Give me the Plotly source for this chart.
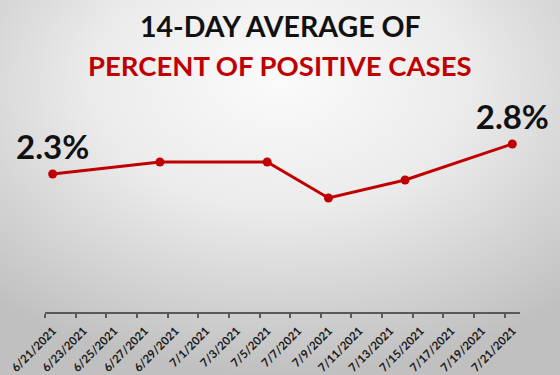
import base64
import plotly.graph_objects as go

# ---- data ----
dates = ["2021-06-21", "2021-06-28", "2021-07-05", "2021-07-09", "2021-07-14", "2021-07-21"]
pct_positive = [2.3, 2.5, 2.5, 1.9, 2.2, 2.8]
title_line1 = "14-DAY AVERAGE OF"
title_line2 = "PERCENT OF POSITIVE CASES"
x_start = "2021-06-21"
x_end = "2021-07-22"

RED = "#c00000"
FONT = "Lato, 'Open Sans', sans-serif"

labels = [f"{v}%" if i in (0, len(pct_positive) - 1) else "" for i, v in enumerate(pct_positive)]

W, H = 560, 375
ML, MR, MT, MB = 45, 40, 132, 63
PW, PH = W - ML - MR, H - MT - MB

svg = f"""<svg xmlns='http://www.w3.org/2000/svg' width='{W}' height='{H}' viewBox='0 0 {W} {H}' preserveAspectRatio='none'>
<defs><radialGradient id='g' cx='50%' cy='25%' r='75%' fx='50%' fy='20%'>
<stop offset='0%' stop-color='#fbfbfb'/><stop offset='45%' stop-color='#ebebeb'/><stop offset='100%' stop-color='#c0c0c0'/>
</radialGradient></defs><rect width='{W}' height='{H}' fill='url(#g)'/></svg>"""
bg_src = "data:image/svg+xml;base64," + base64.b64encode(svg.encode()).decode()

fig = go.Figure()
fig.add_trace(go.Scatter(
    x=dates, y=pct_positive,
    xperiod=86400000, xperiodalignment="middle",
    mode="lines+markers+text",
    line=dict(color=RED, width=3),
    marker=dict(color=RED, size=9),
    text=labels, textposition="top center",
    textfont=dict(family=FONT, size=33, color="#111111", weight="bold"),
    cliponaxis=False, hoverinfo="skip",
))

fig.update_layout(
    width=W, height=H,
    margin=dict(l=ML, r=MR, t=MT, b=MB, autoexpand=False),
    paper_bgcolor="#e2e2e2",
    plot_bgcolor="rgba(0,0,0,0)",
    showlegend=False,
    images=[dict(
        source=bg_src, xref="paper", yref="paper",
        x=-ML / PW, y=1 + MT / PH, sizex=W / PW, sizey=H / PH,
        xanchor="left", yanchor="top", sizing="stretch", layer="below",
    )],
    xaxis=dict(
        type="date", range=[x_start, x_end],
        tick0=x_start, dtick=2 * 86400000, tickformat="%-m/%-d/%Y",
        tickangle=-45, ticks="outside", ticklen=4, tickwidth=1.5,
        tickcolor="#595959", showline=True, linecolor="#595959", linewidth=1.5,
        showgrid=False, zeroline=False,
        ticklabelshift=8, ticklabelstandoff=2,
        tickfont=dict(family=FONT, size=11.5, color="#1a1a1a", weight="bold"),
        fixedrange=True,
    ),
    yaxis=dict(range=[0, 3], visible=False, fixedrange=True),
    annotations=[
        dict(text=title_line1, xref="paper", yref="paper", x=(W / 2 - ML) / PW,
             y=1 + (MT - 45) / PH, xanchor="center", yanchor="bottom", showarrow=False,
             font=dict(family=FONT, size=28.5, color="#111111", weight="bold")),
        dict(text=title_line2, xref="paper", yref="paper", x=(W / 2 - ML) / PW,
             y=1 + (MT - 84) / PH, xanchor="center", yanchor="bottom", showarrow=False,
             font=dict(family=FONT, size=27.5, color=RED, weight="bold")),
    ],
)

fig.write_html("out.html", config={"displayModeBar": False},
               post_script="document.body.style.margin='0';document.body.style.overflow='hidden';")
